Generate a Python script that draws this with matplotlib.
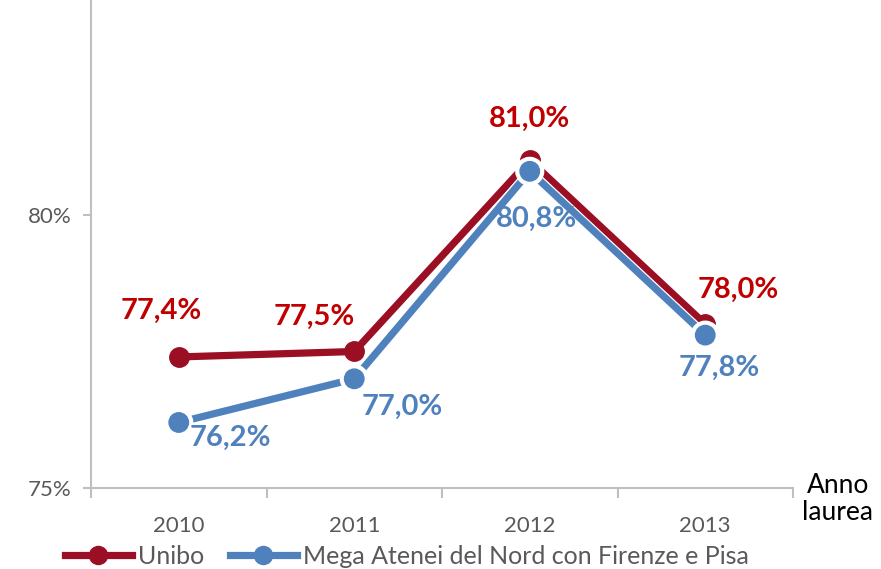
import matplotlib
matplotlib.use("Agg")
import matplotlib.pyplot as plt
import matplotlib.patheffects as pe
from matplotlib.lines import Line2D

years = ["2010", "2011", "2012", "2013"]
unibo = [77.4, 77.5, 81.0, 78.0]
mega = [76.2, 77.0, 80.8, 77.8]
unibo_labels = ["77,4%", "77,5%", "81,0%", "78,0%"]
mega_labels = ["76,2%", "77,0%", "80,8%", "77,8%"]
series_names = ["Unibo", "Mega Atenei del Nord con Firenze e Pisa"]

red_line = "#9B0F24"
red_text = "#C00000"
blue = "#4F81BD"
gray = "#595959"
FONT = "Lato"

W, H = 881, 569
fig = plt.figure(figsize=(W / 100, H / 100), dpi=100)
left, right = 91 / W, 793 / W
bottom = 1 - 488 / H
ax = fig.add_axes([left, bottom, right - left, (9 * 54.6) / H])
ax.set_xlim(-0.5, 3.5)
ax.set_ylim(75, 84)

x = list(range(len(years)))
ax.plot(x, unibo, color=red_line, lw=5.2, marker="o", ms=14, zorder=3,
        solid_capstyle="round")
ax.plot(x, mega, color=blue, lw=5.2, marker="o", ms=14, zorder=4,
        path_effects=[pe.Stroke(linewidth=7, foreground="white"), pe.Normal()])

# data labels (offsets in pixels)
u_off = [(-18, 46), (-40, 35), (0, 42), (33, 34)]
m_off = [(52, -15), (48, -28), (7, -48), (14, -33)]
for i in x:
    ax.annotate(unibo_labels[i], (i, unibo[i]), xytext=(u_off[i][0] * 0.72, u_off[i][1] * 0.72),
                textcoords="offset points", ha="center", va="center",
                color=red_text, fontsize=21, fontweight="bold", family=FONT, zorder=5)
    ax.annotate(mega_labels[i], (i, mega[i]), xytext=(m_off[i][0] * 0.72, m_off[i][1] * 0.72),
                textcoords="offset points", ha="center", va="center",
                color=blue, fontsize=21, fontweight="bold", family=FONT, zorder=5)

for s in ["top", "right"]:
    ax.spines[s].set_visible(False)
for s in ["left", "bottom"]:
    ax.spines[s].set_color("#BFBFBF")
    ax.spines[s].set_linewidth(1.5)

ax.set_yticks([75, 80])
ax.set_yticklabels(["75%", "80%"], family=FONT, fontsize=16, color=gray)
ax.tick_params(axis="y", length=6, width=1.5, color="#BFBFBF", pad=8)

ax.set_xticks(x)
ax.set_xticklabels(years, family=FONT, fontsize=16, color=gray)
ax.tick_params(axis="x", which="major", length=0, pad=20)
ax.set_xticks([-0.5, 0.5, 1.5, 2.5, 3.5], minor=True)
ax.tick_params(axis="x", which="minor", length=7, width=1.5, color="#BFBFBF")

fig.text(838 / W, 1 - 499 / H, "Anno\nlaurea", ha="center", va="center",
         fontsize=19, family=FONT, color="black", linespacing=1.1)

handles = [
    Line2D([], [], color=red_line, lw=5.2, marker="o", ms=13),
    Line2D([], [], color=blue, lw=5.2, marker="o", ms=13),
]
fig.legend(handles, series_names, loc="center left", bbox_to_anchor=(42 / W, 1 - 556 / H),
           ncol=2, frameon=False, handlelength=2.7, columnspacing=1.0, handletextpad=0.25,
           prop={"family": FONT, "size": 18}, labelcolor=gray)

fig.savefig("out.png", dpi=100)
